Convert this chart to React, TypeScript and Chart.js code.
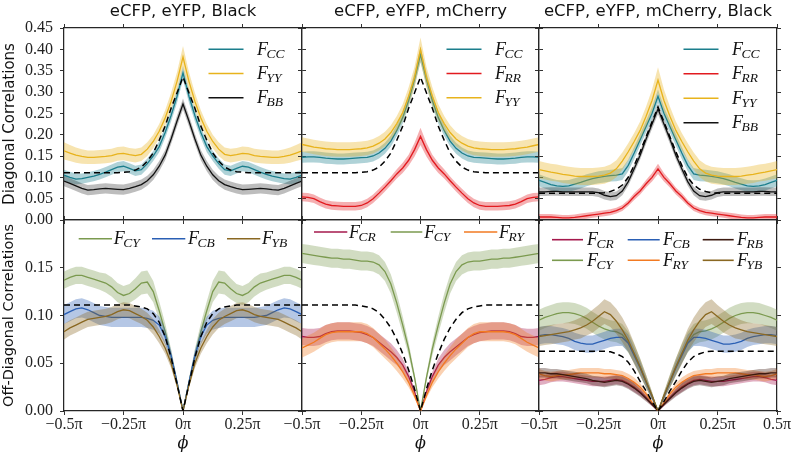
import React, { useEffect, useRef } from "react";
import { Chart, registerables } from "chart.js";
Chart.register(...registerables);

// ---------- data (half curves, phi >= 0, in units of pi; curves are mirror-symmetric) ----------
const PHI = [0, 0.025, 0.05, 0.075, 0.1, 0.125, 0.15, 0.175, 0.2, 0.225, 0.25, 0.275, 0.3, 0.325, 0.35, 0.375, 0.4, 0.425, 0.45, 0.475, 0.5];

const X_TICKS = [-0.5, -0.25, 0, 0.25, 0.5];
const X_TICK_LABELS = ["−0.5π", "−0.25π", "0π", "0.25π", "0.5π"];
const Y_TICKS_TOP = [0, 0.05, 0.1, 0.15, 0.2, 0.25, 0.3, 0.35, 0.4, 0.45];
const Y_TICK_LABELS_TOP = ["0.00", "0.05", "0.10", "0.15", "0.20", "0.25", "0.30", "0.35", "0.40", "0.45"];
const Y_TICKS_BOTTOM = [0, 0.05, 0.1, 0.15, 0.2];
const Y_TICK_LABELS_BOTTOM = ["0.00", "0.05", "0.10", "0.15", ""];
const TITLES = ["eCFP, eYFP, Black", "eCFP, eYFP, mCherry", "eCFP, eYFP, mCherry, Black"];
const ROW_LABELS = ["Diagonal Correlations", "Off-Diagonal Correlations"];
const X_LABEL = "ϕ";

// top-left: eCFP, eYFP, Black
const TL_CC = [0.345, 0.29, 0.245, 0.205, 0.172, 0.15, 0.132, 0.118, 0.115, 0.121, 0.126, 0.124, 0.118, 0.112, 0.107, 0.103, 0.1, 0.097, 0.096, 0.1, 0.105];
const TL_CC_ERR = [0.016, 0.015, 0.014, 0.013, 0.013, 0.012, 0.012, 0.012, 0.012, 0.012, 0.012, 0.012, 0.012, 0.012, 0.012, 0.012, 0.012, 0.012, 0.013, 0.013, 0.013];
const TL_YY = [0.382, 0.325, 0.278, 0.239, 0.208, 0.184, 0.166, 0.154, 0.151, 0.153, 0.156, 0.155, 0.151, 0.149, 0.148, 0.147, 0.147, 0.149, 0.152, 0.157, 0.162];
const TL_YY_ERR = [0.026, 0.022, 0.02, 0.018, 0.017, 0.016, 0.016, 0.016, 0.016, 0.016, 0.016, 0.016, 0.016, 0.016, 0.016, 0.016, 0.016, 0.017, 0.018, 0.019, 0.02];
const TL_BB = [0.272, 0.232, 0.19, 0.152, 0.126, 0.106, 0.092, 0.083, 0.078, 0.074, 0.071, 0.072, 0.073, 0.074, 0.073, 0.071, 0.07, 0.074, 0.08, 0.086, 0.091];
const TL_BB_ERR = [0.013, 0.013, 0.012, 0.012, 0.012, 0.012, 0.012, 0.012, 0.012, 0.012, 0.012, 0.012, 0.012, 0.012, 0.012, 0.012, 0.012, 0.012, 0.012, 0.012, 0.012];
const TL_REF = [0.335, 0.298, 0.262, 0.22, 0.187, 0.157, 0.138, 0.124, 0.117, 0.113, 0.112, 0.111, 0.111, 0.111, 0.111, 0.111, 0.111, 0.111, 0.111, 0.111, 0.111];

// top-middle: eCFP, eYFP, mCherry
const TM_CC = [0.388, 0.33, 0.28, 0.24, 0.21, 0.185, 0.168, 0.157, 0.15, 0.147, 0.146, 0.145, 0.144, 0.143, 0.143, 0.144, 0.145, 0.147, 0.148, 0.148, 0.147];
const TM_CC_ERR = [0.018, 0.016, 0.015, 0.014, 0.013, 0.013, 0.013, 0.013, 0.013, 0.013, 0.013, 0.013, 0.013, 0.013, 0.013, 0.013, 0.013, 0.013, 0.013, 0.013, 0.013];
const TM_RR = [0.196, 0.165, 0.14, 0.122, 0.108, 0.092, 0.077, 0.063, 0.05, 0.04, 0.034, 0.032, 0.032, 0.032, 0.033, 0.034, 0.037, 0.043, 0.05, 0.053, 0.054];
const TM_RR_ERR = [0.02, 0.016, 0.013, 0.012, 0.011, 0.01, 0.01, 0.01, 0.01, 0.01, 0.01, 0.01, 0.01, 0.01, 0.01, 0.01, 0.01, 0.01, 0.01, 0.01, 0.01];
const TM_YY = [0.4, 0.335, 0.29, 0.252, 0.226, 0.205, 0.19, 0.18, 0.173, 0.169, 0.167, 0.166, 0.165, 0.165, 0.165, 0.166, 0.167, 0.169, 0.171, 0.174, 0.177];
const TM_YY_ERR = [0.028, 0.024, 0.021, 0.019, 0.018, 0.017, 0.017, 0.017, 0.017, 0.017, 0.017, 0.017, 0.017, 0.017, 0.017, 0.017, 0.017, 0.017, 0.017, 0.017, 0.017];
const TM_REF = [0.335, 0.298, 0.262, 0.22, 0.187, 0.157, 0.138, 0.124, 0.117, 0.113, 0.112, 0.111, 0.111, 0.111, 0.111, 0.111, 0.111, 0.111, 0.111, 0.111, 0.111];

// top-right: eCFP, eYFP, mCherry, Black
const TR_CC = [0.29, 0.25, 0.219, 0.188, 0.157, 0.128, 0.108, 0.105, 0.104, 0.102, 0.1, 0.097, 0.093, 0.088, 0.084, 0.08, 0.079, 0.08, 0.083, 0.088, 0.093];
const TR_CC_ERR = [0.016, 0.015, 0.014, 0.014, 0.014, 0.014, 0.014, 0.014, 0.014, 0.014, 0.014, 0.014, 0.014, 0.014, 0.014, 0.014, 0.014, 0.014, 0.014, 0.014, 0.014];
const TR_RR = [0.12, 0.1, 0.085, 0.068, 0.055, 0.04, 0.028, 0.022, 0.018, 0.016, 0.014, 0.012, 0.01, 0.008, 0.006, 0.005, 0.005, 0.006, 0.007, 0.007, 0.007];
const TR_RR_ERR = [0.012, 0.01, 0.009, 0.008, 0.008, 0.007, 0.007, 0.007, 0.007, 0.007, 0.007, 0.007, 0.007, 0.007, 0.007, 0.007, 0.007, 0.007, 0.007, 0.007, 0.007];
const TR_YY = [0.328, 0.28, 0.243, 0.21, 0.184, 0.16, 0.138, 0.12, 0.11, 0.105, 0.103, 0.102, 0.102, 0.102, 0.103, 0.105, 0.107, 0.11, 0.112, 0.115, 0.118];
const TR_YY_ERR = [0.03, 0.026, 0.023, 0.021, 0.02, 0.02, 0.02, 0.02, 0.02, 0.02, 0.02, 0.02, 0.02, 0.02, 0.02, 0.02, 0.02, 0.02, 0.02, 0.02, 0.02];
const TR_BB = [0.26, 0.225, 0.19, 0.152, 0.12, 0.09, 0.068, 0.057, 0.055, 0.058, 0.064, 0.066, 0.066, 0.066, 0.066, 0.066, 0.066, 0.067, 0.067, 0.066, 0.066];
const TR_BB_ERR = [0.012, 0.011, 0.011, 0.01, 0.01, 0.01, 0.01, 0.01, 0.01, 0.01, 0.01, 0.01, 0.01, 0.01, 0.01, 0.01, 0.01, 0.01, 0.01, 0.01, 0.01];
const TR_REF = [0.265, 0.23, 0.195, 0.16, 0.128, 0.1, 0.082, 0.072, 0.067, 0.064, 0.063, 0.0625, 0.0625, 0.0625, 0.0625, 0.0625, 0.0625, 0.0625, 0.0625, 0.0625, 0.0625];

// bottom-left
const BL_CY = [0, 0.03, 0.058, 0.083, 0.105, 0.125, 0.135, 0.134, 0.128, 0.123, 0.121, 0.124, 0.13, 0.134, 0.136, 0.138, 0.14, 0.142, 0.142, 0.14, 0.137];
const BL_CY_ERR = [0, 0.004, 0.007, 0.009, 0.01, 0.011, 0.012, 0.012, 0.011, 0.01, 0.01, 0.01, 0.01, 0.01, 0.009, 0.009, 0.009, 0.009, 0.009, 0.009, 0.009];
const BL_CB = [0, 0.03, 0.058, 0.078, 0.09, 0.095, 0.097, 0.098, 0.098, 0.098, 0.098, 0.098, 0.098, 0.099, 0.1, 0.103, 0.106, 0.108, 0.107, 0.104, 0.101];
const BL_CB_ERR = [0, 0.003, 0.006, 0.008, 0.009, 0.01, 0.01, 0.01, 0.01, 0.01, 0.01, 0.01, 0.01, 0.01, 0.01, 0.01, 0.01, 0.01, 0.01, 0.01, 0.01];
const BL_YB = [0, 0.027, 0.05, 0.066, 0.078, 0.088, 0.095, 0.099, 0.102, 0.105, 0.106, 0.104, 0.101, 0.099, 0.098, 0.097, 0.096, 0.093, 0.09, 0.087, 0.083];
const BL_YB_ERR = [0, 0.003, 0.005, 0.006, 0.007, 0.008, 0.008, 0.008, 0.008, 0.008, 0.008, 0.008, 0.008, 0.008, 0.008, 0.008, 0.008, 0.008, 0.008, 0.008, 0.008];
const BL_REF = [0, 0.028, 0.056, 0.078, 0.093, 0.102, 0.107, 0.109, 0.11, 0.111, 0.111, 0.111, 0.111, 0.111, 0.111, 0.111, 0.111, 0.111, 0.111, 0.111, 0.111];

// bottom-middle
const BM_CR = [0, 0.02, 0.036, 0.048, 0.056, 0.062, 0.067, 0.072, 0.077, 0.08, 0.082, 0.083, 0.084, 0.084, 0.084, 0.083, 0.081, 0.078, 0.077, 0.077, 0.078];
const BM_CR_ERR = [0, 0.003, 0.005, 0.007, 0.008, 0.009, 0.009, 0.009, 0.009, 0.009, 0.009, 0.009, 0.009, 0.009, 0.009, 0.009, 0.009, 0.009, 0.009, 0.009, 0.009];
const BM_CY = [0, 0.035, 0.065, 0.09, 0.113, 0.133, 0.146, 0.153, 0.156, 0.157, 0.157, 0.158, 0.159, 0.159, 0.16, 0.16, 0.161, 0.162, 0.163, 0.164, 0.165];
const BM_CY_ERR = [0, 0.004, 0.007, 0.009, 0.01, 0.01, 0.01, 0.01, 0.01, 0.01, 0.01, 0.01, 0.01, 0.01, 0.01, 0.01, 0.01, 0.01, 0.01, 0.01, 0.01];
const BM_RY = [0, 0.016, 0.03, 0.041, 0.05, 0.058, 0.065, 0.071, 0.077, 0.081, 0.083, 0.083, 0.083, 0.083, 0.083, 0.082, 0.08, 0.076, 0.072, 0.069, 0.066];
const BM_RY_ERR = [0, 0.003, 0.005, 0.007, 0.008, 0.009, 0.01, 0.01, 0.01, 0.01, 0.01, 0.01, 0.01, 0.01, 0.01, 0.01, 0.01, 0.01, 0.01, 0.01, 0.01];
const BM_REF = [0, 0.023, 0.043, 0.06, 0.075, 0.087, 0.096, 0.103, 0.107, 0.109, 0.11, 0.111, 0.111, 0.111, 0.111, 0.111, 0.111, 0.111, 0.111, 0.111, 0.111];

// bottom-right
const BR_CR = [0, 0.007, 0.014, 0.02, 0.025, 0.029, 0.032, 0.033, 0.032, 0.031, 0.031, 0.031, 0.032, 0.033, 0.034, 0.035, 0.036, 0.036, 0.035, 0.033, 0.032];
const BR_CR_ERR = [0, 0.002, 0.003, 0.004, 0.005, 0.005, 0.005, 0.005, 0.005, 0.005, 0.005, 0.005, 0.005, 0.005, 0.005, 0.005, 0.005, 0.005, 0.005, 0.005, 0.005];
const BR_CY = [0, 0.016, 0.031, 0.046, 0.06, 0.072, 0.08, 0.083, 0.084, 0.086, 0.089, 0.093, 0.097, 0.1, 0.102, 0.103, 0.103, 0.102, 0.1, 0.098, 0.095];
const BR_CY_ERR = [0, 0.004, 0.007, 0.009, 0.01, 0.011, 0.011, 0.011, 0.011, 0.011, 0.011, 0.011, 0.011, 0.011, 0.011, 0.011, 0.011, 0.011, 0.011, 0.011, 0.011];
const BR_CB = [0, 0.015, 0.03, 0.045, 0.058, 0.071, 0.077, 0.077, 0.076, 0.074, 0.072, 0.07, 0.07, 0.071, 0.073, 0.076, 0.078, 0.079, 0.08, 0.08, 0.079];
const BR_CB_ERR = [0, 0.003, 0.005, 0.007, 0.008, 0.009, 0.009, 0.009, 0.009, 0.009, 0.009, 0.009, 0.009, 0.009, 0.009, 0.009, 0.009, 0.009, 0.009, 0.009, 0.009];
const BR_RY = [0, 0.009, 0.018, 0.025, 0.03, 0.034, 0.037, 0.038, 0.039, 0.039, 0.04, 0.04, 0.04, 0.04, 0.039, 0.038, 0.038, 0.037, 0.036, 0.037, 0.039];
const BR_RY_ERR = [0, 0.002, 0.003, 0.004, 0.005, 0.005, 0.005, 0.005, 0.005, 0.005, 0.005, 0.005, 0.005, 0.005, 0.005, 0.005, 0.005, 0.005, 0.005, 0.005, 0.005];
const BR_RB = [0, 0.007, 0.013, 0.019, 0.024, 0.028, 0.031, 0.032, 0.031, 0.03, 0.031, 0.032, 0.034, 0.035, 0.036, 0.037, 0.038, 0.039, 0.039, 0.04, 0.04];
const BR_RB_ERR = [0, 0.002, 0.003, 0.004, 0.005, 0.005, 0.005, 0.005, 0.005, 0.005, 0.005, 0.005, 0.005, 0.005, 0.005, 0.005, 0.005, 0.005, 0.005, 0.005, 0.005];
const BR_YB = [0, 0.016, 0.031, 0.046, 0.06, 0.074, 0.085, 0.094, 0.101, 0.104, 0.099, 0.094, 0.09, 0.087, 0.085, 0.083, 0.082, 0.081, 0.08, 0.079, 0.078];
const BR_YB_ERR = [0, 0.004, 0.007, 0.009, 0.011, 0.012, 0.013, 0.013, 0.013, 0.013, 0.012, 0.012, 0.011, 0.011, 0.01, 0.01, 0.01, 0.01, 0.01, 0.01, 0.01];
const BR_REF = [0, 0.01, 0.021, 0.031, 0.042, 0.051, 0.057, 0.06, 0.062, 0.0625, 0.0625, 0.0625, 0.0625, 0.0625, 0.0625, 0.0625, 0.0625, 0.0625, 0.0625, 0.0625, 0.0625];

// ---------- styles ----------
const COLORS: Record<string, string> = {
  CC: "#1b7e8c",
  YY: "#e8b31c",
  BB: "#111111",
  RR: "#e21a1f",
  CY: "#7b9a4f",
  CB: "#2a5fb4",
  YB: "#8a6822",
  CR: "#a5184c",
  RY: "#f27a22",
  RB: "#3c1a10",
};
const SERIF = '"Liberation Serif", "DejaVu Serif", serif';
const SANS = '"DejaVu Sans", "Liberation Sans", sans-serif';

const PLOT_LEFT = [64, 302, 539];
const PLOT_RIGHT = [302, 539, 777];
const PLOT_TOP = [28, 220];
const PLOT_BOTTOM = [220, 411];

type S = { key: string; mean: number[]; err: number[] };
type LegendItem = { key: string; x0: number; x1: number; tx: number; dy: number };

function vLegend(keys: string[], step: number): LegendItem[] {
  return keys.map((k, i) => ({ key: k, x0: 144.5, x1: 179.5, tx: 193, dy: 21.3 + i * step }));
}

const PANELS: { row: number; col: number; series: S[]; ref: number[]; legend: LegendItem[] }[] = [
  {
    row: 0, col: 0,
    series: [
      { key: "CC", mean: TL_CC, err: TL_CC_ERR },
      { key: "YY", mean: TL_YY, err: TL_YY_ERR },
      { key: "BB", mean: TL_BB, err: TL_BB_ERR },
    ],
    ref: TL_REF,
    legend: vLegend(["CC", "YY", "BB"], 24.2),
  },
  {
    row: 0, col: 1,
    series: [
      { key: "CC", mean: TM_CC, err: TM_CC_ERR },
      { key: "RR", mean: TM_RR, err: TM_RR_ERR },
      { key: "YY", mean: TM_YY, err: TM_YY_ERR },
    ],
    ref: TM_REF,
    legend: vLegend(["CC", "RR", "YY"], 24.2),
  },
  {
    row: 0, col: 2,
    series: [
      { key: "CC", mean: TR_CC, err: TR_CC_ERR },
      { key: "RR", mean: TR_RR, err: TR_RR_ERR },
      { key: "YY", mean: TR_YY, err: TR_YY_ERR },
      { key: "BB", mean: TR_BB, err: TR_BB_ERR },
    ],
    ref: TR_REF,
    legend: vLegend(["CC", "RR", "YY", "BB"], 24.5),
  },
  {
    row: 1, col: 0,
    series: [
      { key: "CY", mean: BL_CY, err: BL_CY_ERR },
      { key: "CB", mean: BL_CB, err: BL_CB_ERR },
      { key: "YB", mean: BL_YB, err: BL_YB_ERR },
    ],
    ref: BL_REF,
    legend: [
      { key: "CY", x0: 14.7, x1: 48, tx: 49.7, dy: 18.7 },
      { key: "CB", x0: 88, x1: 121.3, tx: 124, dy: 18.7 },
      { key: "YB", x0: 163, x1: 196.3, tx: 198, dy: 18.7 },
    ],
  },
  {
    row: 1, col: 1,
    series: [
      { key: "CR", mean: BM_CR, err: BM_CR_ERR },
      { key: "CY", mean: BM_CY, err: BM_CY_ERR },
      { key: "RY", mean: BM_RY, err: BM_RY_ERR },
    ],
    ref: BM_REF,
    legend: [
      { key: "CR", x0: 12, x1: 45.3, tx: 47, dy: 12 },
      { key: "CY", x0: 88.7, x1: 120.3, tx: 122.3, dy: 12 },
      { key: "RY", x0: 162, x1: 195.3, tx: 197, dy: 12 },
    ],
  },
  {
    row: 1, col: 2,
    series: [
      { key: "CR", mean: BR_CR, err: BR_CR_ERR },
      { key: "CY", mean: BR_CY, err: BR_CY_ERR },
      { key: "CB", mean: BR_CB, err: BR_CB_ERR },
      { key: "RY", mean: BR_RY, err: BR_RY_ERR },
      { key: "RB", mean: BR_RB, err: BR_RB_ERR },
      { key: "YB", mean: BR_YB, err: BR_YB_ERR },
    ],
    ref: BR_REF,
    legend: [
      { key: "CR", x0: 13, x1: 44, tx: 48, dy: 19.7 },
      { key: "CB", x0: 88.7, x1: 120.7, tx: 124, dy: 19.7 },
      { key: "RB", x0: 163.7, x1: 194.7, tx: 198, dy: 19.7 },
      { key: "CY", x0: 13, x1: 44, tx: 48, dy: 40.3 },
      { key: "RY", x0: 88.7, x1: 120.7, tx: 124, dy: 40.3 },
      { key: "YB", x0: 163.7, x1: 194.7, tx: 198, dy: 40.3 },
    ],
  },
];

// ---------- helpers ----------
const X_FULL = [...PHI.slice(1).reverse().map((v) => -v), ...PHI];
function mirror(half: number[]): number[] {
  return [...half.slice(1).reverse(), ...half];
}
function rgba(hex: string, a: number) {
  const n = parseInt(hex.slice(1), 16);
  return `rgba(${(n >> 16) & 255},${(n >> 8) & 255},${n & 255},${a})`;
}
function geom(row: number, col: number) {
  const ml = col === 0 ? 64 : 30;
  const mr = col === 2 ? 18 : 6;
  const mt = row === 0 ? 28 : 6;
  const mb = row === 0 ? 6 : 51;
  const left = PLOT_LEFT[col] - ml;
  const top = PLOT_TOP[row] - mt;
  const width = ml + PLOT_RIGHT[col] - PLOT_LEFT[col] + mr;
  const height = mt + PLOT_BOTTOM[row] - PLOT_TOP[row] + mb;
  return { ml, mr, mt, mb, left, top, width, height };
}

function legendPlugin(items: LegendItem[]) {
  return {
    id: "subLegend",
    afterDatasetsDraw(chart: any) {
      const { ctx, chartArea } = chart;
      ctx.save();
      for (const it of items) {
        const y = chartArea.top + it.dy;
        ctx.strokeStyle = COLORS[it.key];
        ctx.lineWidth = 1.6;
        ctx.setLineDash([]);
        ctx.beginPath();
        ctx.moveTo(chartArea.left + it.x0, y);
        ctx.lineTo(chartArea.left + it.x1, y);
        ctx.stroke();
        ctx.fillStyle = "#111";
        ctx.textBaseline = "alphabetic";
        ctx.textAlign = "left";
        ctx.font = `italic 18px ${SERIF}`;
        const tx = chartArea.left + it.tx;
        ctx.fillText("F", tx, y + 5.5);
        const w = ctx.measureText("F").width;
        ctx.font = `italic 13.5px ${SERIF}`;
        ctx.fillText(it.key, tx + w - 1.5, y + 8.5);
      }
      ctx.restore();
    },
  };
}

function makeChart(canvas: HTMLCanvasElement, p: (typeof PANELS)[number]) {
  const g = geom(p.row, p.col);
  const datasets: any[] = [];
  for (const s of p.series) {
    const m = mirror(s.mean);
    const e = mirror(s.err);
    const c = COLORS[s.key];
    datasets.push({
      data: X_FULL.map((x, i) => ({ x, y: m[i] - e[i] })),
      borderWidth: 0, borderColor: "rgba(0,0,0,0)", pointRadius: 0, fill: false,
    });
    datasets.push({
      data: X_FULL.map((x, i) => ({ x, y: m[i] + e[i] })),
      borderWidth: 0, borderColor: "rgba(0,0,0,0)", pointRadius: 0, fill: "-1",
      backgroundColor: rgba(c, s.key === "BB" ? 0.28 : 0.35),
    });
    datasets.push({
      data: X_FULL.map((x, i) => ({ x, y: m[i] })),
      borderWidth: 1.3, borderColor: c, pointRadius: 0, fill: false,
    });
  }
  const r = mirror(p.ref);
  datasets.push({
    data: X_FULL.map((x, i) => ({ x, y: r[i] })),
    borderWidth: 1.5, borderColor: "#000", borderDash: [6, 4], pointRadius: 0, fill: false,
  });
  datasets.forEach((d, i) => (d.order = datasets.length - i));

  const yTicks = p.row === 0 ? Y_TICKS_TOP : Y_TICKS_BOTTOM;
  const yLabels = p.row === 0 ? Y_TICK_LABELS_TOP : Y_TICK_LABELS_BOTTOM;
  const ymax = yTicks[yTicks.length - 1];

  const grid = { display: true, drawOnChartArea: false, drawTicks: true, tickLength: 4, tickWidth: 1, tickColor: "#333" };
  const border = { display: true, color: "#262626", width: 1.25 };
  const fix = (size: number, horiz: boolean) => (s: any) => {
    if (horiz) s.height = size; else s.width = size;
    s.paddingLeft = 0; s.paddingRight = 0; s.paddingTop = 0; s.paddingBottom = 0;
  };
  const xTicksSet = (s: any) => { s.ticks = X_TICKS.map((v) => ({ value: v })); };
  const yTicksSet = (s: any) => { s.ticks = yTicks.map((v) => ({ value: v })); };
  const tickFont = { family: SERIF, size: 16 };

  return new Chart(canvas, {
    type: "line",
    data: { datasets },
    plugins: [legendPlugin(p.legend)],
    options: {
      responsive: false,
      animation: false,
      devicePixelRatio: 1,
      layout: { padding: 0 },
      plugins: { legend: { display: false }, tooltip: { enabled: false }, title: { display: false } },
      scales: {
        x: {
          type: "linear", position: "bottom", min: -0.5, max: 0.5,
          afterBuildTicks: xTicksSet, afterFit: fix(g.mb, true),
          grid, border,
          ticks: {
            display: p.row === 1, autoSkip: false, maxRotation: 0, padding: 0, font: tickFont, color: "#222",
            callback: (v: any) => {
              const i = X_TICKS.indexOf(v);
              if (i < 0) return "";
              if (p.col < 2 && v === 0.5) return "";
              return X_TICK_LABELS[i];
            },
          },
          title: p.row === 1
            ? { display: true, text: X_LABEL, font: { family: '"DejaVu Serif", serif', size: 16, style: "italic" }, color: "#111", padding: { top: 0, bottom: 9 } }
            : { display: false },
        },
        x2: {
          type: "linear", position: "top", min: -0.5, max: 0.5,
          afterBuildTicks: xTicksSet, afterFit: fix(g.mt, true),
          grid, border,
          ticks: { display: false },
          title: p.row === 0
            ? { display: true, text: TITLES[p.col], font: { family: SANS, size: 16.5 }, color: "#111", padding: { top: 2, bottom: 0 } }
            : { display: false },
        },
        y: {
          type: "linear", position: "left", min: 0, max: ymax,
          afterBuildTicks: yTicksSet, afterFit: fix(g.ml, false),
          grid, border,
          ticks: {
            display: p.col === 0, autoSkip: false, padding: 7, font: tickFont, color: "#222",
            callback: (v: any) => {
              const i = yTicks.findIndex((t) => Math.abs(t - v) < 1e-9);
              return i < 0 ? "" : yLabels[i];
            },
          },
          title: p.col === 0
            ? { display: true, text: ROW_LABELS[p.row], font: { family: SANS, size: p.row === 0 ? 15 : 14.5 }, color: "#111", padding: { top: 1, bottom: 0 } }
            : { display: false },
        },
        y2: {
          type: "linear", position: "right", min: 0, max: ymax,
          afterBuildTicks: yTicksSet, afterFit: fix(g.mr, false),
          grid, border,
          ticks: { display: false },
        },
      },
    } as any,
  });
}

export default function App() {
  const refs = useRef<(HTMLCanvasElement | null)[]>([]);
  useEffect(() => {
    const charts = PANELS.map((p, i) => makeChart(refs.current[i] as HTMLCanvasElement, p));
    return () => charts.forEach((c) => c.destroy());
  }, []);
  return (
    <div style={{ position: "absolute", left: 0, top: 0, width: 795, height: 462, background: "#fff", overflow: "hidden" }}>
      {PANELS.map((p, i) => {
        const g = geom(p.row, p.col);
        return (
          <canvas
            key={i}
            ref={(el) => { refs.current[i] = el; }}
            width={g.width}
            height={g.height}
            style={{ position: "absolute", left: g.left, top: g.top, width: g.width, height: g.height }}
          />
        );
      })}
    </div>
  );
}
